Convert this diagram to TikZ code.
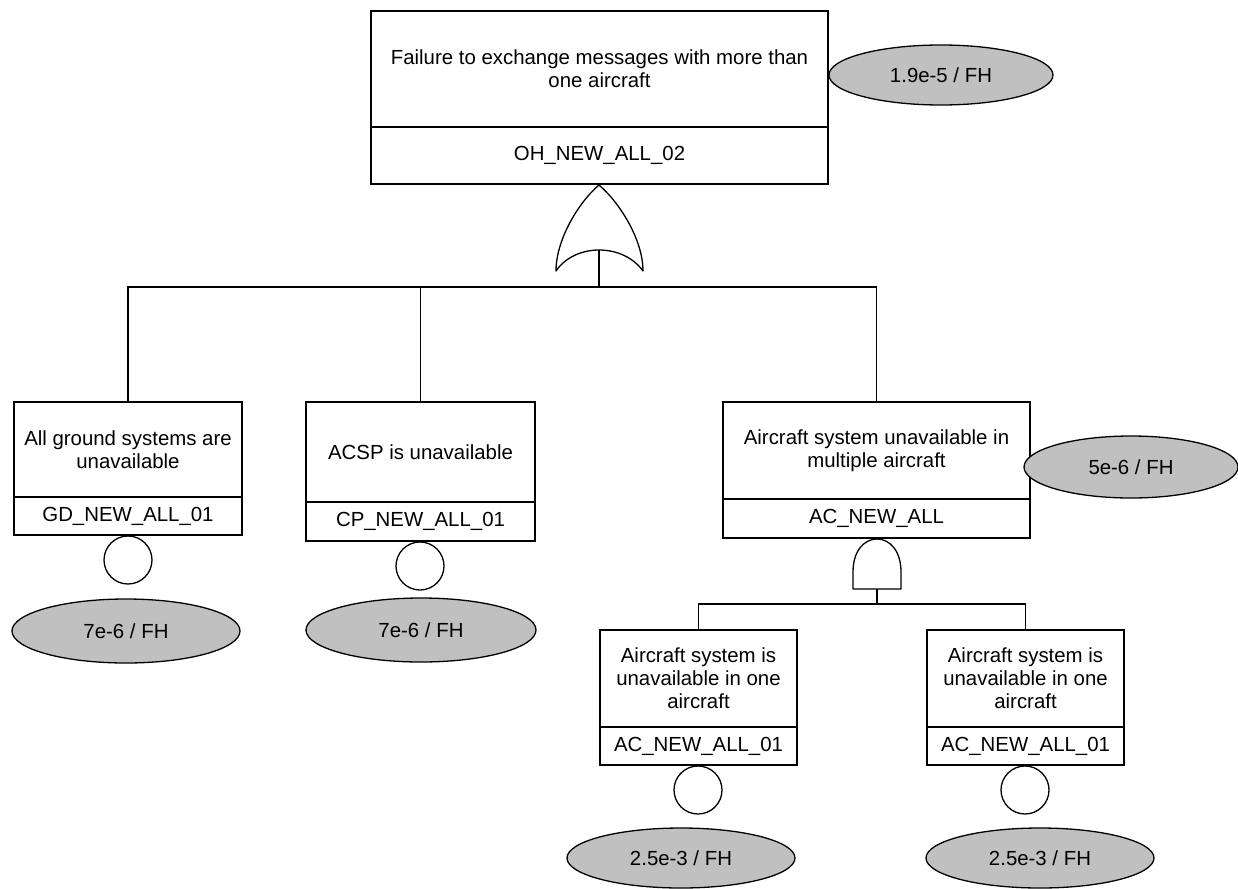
\documentclass[tikz,border=0pt]{standalone}
\usepackage{fontspec}
\setmainfont{Liberation Sans}
\usetikzlibrary{shapes.geometric}
\definecolor{probfill}{HTML}{C0C0C0}
\tikzset{
  every node/.style={font=\fontsize{20.4}{23}\selectfont},
  evbox/.style={draw, line width=1.3pt, inner sep=0pt, outer sep=0pt, align=center},
  basic/.style={draw, circle, line width=1.3pt, minimum size=48pt, inner sep=0pt, outer sep=0pt},
  prob/.style={draw, ellipse, fill=probfill, line width=1.3pt, inner sep=0pt, outer sep=0pt},
  wire/.style={line width=1.3pt},
  gate/.style={line width=1.3pt, line join=round}
}
\begin{document}
\begin{tikzpicture}[x=1pt,y=-1pt]
\useasboundingbox (0,0) rectangle (1238,888);

% top event
\node[evbox, minimum width=457pt, minimum height=116pt] (topU) at (599.5,69) {Failure to exchange messages with more than\\one aircraft};
\node[evbox, minimum width=457pt, minimum height=57pt] (topL) at (599.5,155.5) {OH\_NEW\_ALL\_02};
\node[prob, minimum width=224pt, minimum height=60pt] (topP) at (941,75) {1.9e-5 / FH};

% OR gate
\draw[gate] (599,185) .. controls (578,203) and (556,240) .. (556,271)
  .. controls (575,243) and (623,243) .. (643,271)
  .. controls (643,240) and (620,203) .. (599,185);
\coordinate (orTop) at (599,185);
\coordinate (orBase) at (599,250);
\coordinate (busOR) at (599,287);

% level 2 boxes
\node[evbox, minimum width=228pt, minimum height=95pt] (gdU) at (128,449.5) {All ground systems are\\unavailable};
\node[evbox, minimum width=228pt, minimum height=38pt] (gdL) at (128,516) {GD\_NEW\_ALL\_01};
\node[basic] (gdC) at (128,560) {};
\node[prob, minimum width=228pt, minimum height=64pt] (gdP) at (126,631) {7e-6 / FH};

\node[evbox, minimum width=229pt, minimum height=100pt] (cpU) at (420.5,452) {ACSP is unavailable};
\node[evbox, minimum width=229pt, minimum height=39pt] (cpL) at (420.5,521.5) {CP\_NEW\_ALL\_01};
\node[basic] (cpC) at (420,566) {};
\node[prob, minimum width=230pt, minimum height=64pt] (cpP) at (421,630) {7e-6 / FH};

\node[evbox, minimum width=307pt, minimum height=97pt] (acU) at (876.5,450.5) {Aircraft system unavailable in\\multiple aircraft};
\node[evbox, minimum width=307pt, minimum height=39pt] (acL) at (876.5,518.5) {AC\_NEW\_ALL};
\node[prob, minimum width=214pt, minimum height=62pt] (acP) at (1131,467) {5e-6 / FH};

% OR connectors
\draw[wire] (orBase) -- (busOR);
\draw[wire] (busOR) -| (gdU.north);
\draw[wire] (busOR) -| (cpU.north);
\draw[wire] (busOR) -| (acU.north);

% AND gate
\draw[gate] (853,589) -- (853,572) .. controls (853,551) and (864,539) .. (877,539)
  .. controls (890,539) and (901,551) .. (901,572) -- (901,589) -- cycle;
\coordinate (andBase) at (877,589);
\coordinate (busAND) at (877,604);

% level 3 boxes
\node[evbox, minimum width=197pt, minimum height=97pt] (a1U) at (698.5,678.5) {Aircraft system is\\unavailable in one\\aircraft};
\node[evbox, minimum width=197pt, minimum height=38pt] (a1L) at (698.5,746) {AC\_NEW\_ALL\_01};
\node[basic] (a1C) at (698,790) {};
\node[prob, minimum width=228pt, minimum height=60pt] (a1P) at (681,858) {2.5e-3 / FH};

\node[evbox, minimum width=197pt, minimum height=97pt] (a2U) at (1025.5,678.5) {Aircraft system is\\unavailable in one\\aircraft};
\node[evbox, minimum width=197pt, minimum height=38pt] (a2L) at (1025.5,746) {AC\_NEW\_ALL\_01};
\node[basic] (a2C) at (1025,790) {};
\node[prob, minimum width=228pt, minimum height=60pt] (a2P) at (1040,858) {2.5e-3 / FH};

\draw[wire] (andBase) -- (busAND);
\draw[wire] (busAND) -| (a1U.north);
\draw[wire] (busAND) -| (a2U.north);
\end{tikzpicture}
\end{document}
